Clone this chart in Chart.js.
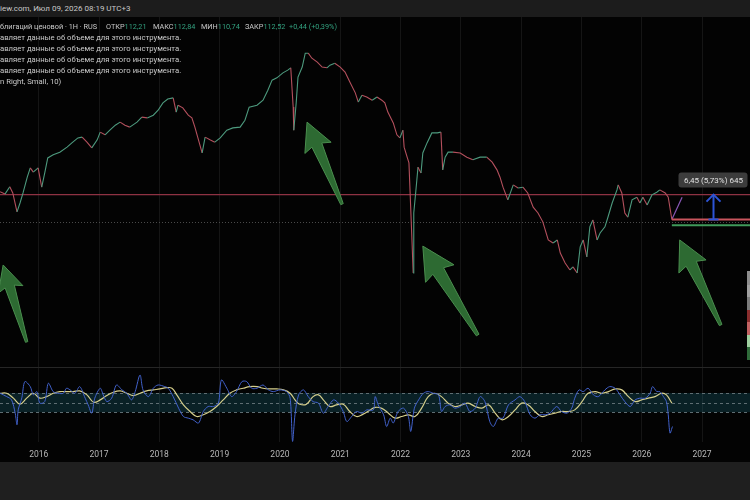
<!DOCTYPE html>
<html><head><meta charset="utf-8">
<script src="https://cdn.jsdelivr.net/npm/chart.js@4.4.1/dist/chart.umd.min.js"></script>
<style>
html,body{margin:0;padding:0;background:#1f1f1f;width:750px;height:500px;overflow:hidden;font-family:Roboto,"DejaVu Sans",sans-serif;}
#top{position:absolute;left:0;top:0;width:750px;height:17px;background:#1c1c1c;color:#c8c8c8;font-size:8px;line-height:17px;white-space:nowrap;}
#chartbg{position:absolute;left:0;top:17px;width:750px;height:445px;background:#030303;}
canvas{position:absolute;left:0;}
#main{top:17px;}
#osc{top:367px;}
#sep{position:absolute;left:0;top:367px;width:750px;height:1px;background:#262626;}
.t{position:absolute;color:#c9c9c9;font-size:7.7px;white-space:nowrap;line-height:10px;}
.l1{font-size:7.3px;}
.g{color:#33a07f;}
.box{position:absolute;left:747px;width:3px;}
</style></head>
<body>
<div id="top">iew.com, Июл 09, 2026 08:19 UTC+3</div>
<div id="chartbg"></div>
<canvas id="main" width="750" height="350"></canvas>
<canvas id="osc" width="750" height="95"></canvas>
<div id="sep"></div>
<div class="t l1" style="left:0;top:22px">блигаций ценовой · 1Н · RUS</div>
<div class="t l1" style="left:106px;top:22px">ОТКР<span class="g">112,21</span></div>
<div class="t l1" style="left:153px;top:22px">МАКС<span class="g">112,84</span></div>
<div class="t l1" style="left:201px;top:22px">МИН<span class="g">110,74</span></div>
<div class="t l1" style="left:245px;top:22px">ЗАКР<span class="g">112,52</span></div>
<div class="t l1 g" style="left:289px;top:22px">+0,44 (+0,39%)</div>
<div class="t" style="left:0;top:33px">авляет данные об объеме для этого инструмента.</div>
<div class="t" style="left:0;top:44px">авляет данные об объеме для этого инструмента.</div>
<div class="t" style="left:0;top:55px">авляет данные об объеме для этого инструмента.</div>
<div class="t" style="left:0;top:66px">авляет данные об объеме для этого инструмента.</div>
<div class="t" style="left:0;top:77px">n Right, Small, 10)</div>
<div class="box" style="top:271px;height:14px;background:#8d8d8d"></div>
<div class="box" style="top:285px;height:12px;background:#a0a0a0"></div>
<div class="box" style="top:297px;height:13px;background:#7c7c7c"></div>
<div class="box" style="top:310px;height:12px;background:#8a2e2e"></div>
<div class="box" style="top:322px;height:13px;background:#c26262"></div>
<div class="box" style="top:335px;height:12px;background:#9fd0a0"></div>
<div class="box" style="top:347px;height:13px;background:#2f6b3a"></div>
<script>
// ---- price series (decimal year, index points) ----
const priceTime = [
2015.36,2015.44,2015.52,2015.57,2015.64,2015.69,2015.74,2015.81,2015.86,2015.91,
2015.99,2016.05,2016.10,2016.15,2016.24,2016.35,2016.47,2016.55,2016.65,2016.72,
2016.80,2016.88,2016.97,2017.02,2017.10,2017.18,2017.27,2017.35,2017.43,2017.51,
2017.63,2017.71,2017.80,2017.90,2017.98,2018.06,2018.14,2018.23,2018.28,2018.31,
2018.39,2018.48,2018.54,2018.59,2018.64,2018.71,2018.76,2018.84,2018.92,2019.01,
2019.12,2019.22,2019.34,2019.42,2019.49,2019.62,2019.72,2019.80,2019.87,2019.95,
2020.05,2020.13,2020.18,2020.22,2020.23,2020.27,2020.30,2020.37,2020.42,2020.47,
2020.53,2020.62,2020.70,2020.78,2020.83,2020.91,2021.00,2021.08,2021.16,2021.25,
2021.30,2021.36,2021.44,2021.53,2021.61,2021.69,2021.74,2021.79,2021.88,2021.94,
2021.99,2022.04,2022.06,2022.11,2022.14,2022.19,2022.21,2022.22,2022.26,2022.29,
2022.34,2022.37,2022.44,2022.52,2022.61,2022.67,2022.70,2022.74,2022.79,2022.87,
2022.99,2023.10,2023.20,2023.32,2023.43,2023.52,2023.60,2023.65,2023.70,2023.78,
2023.87,2023.95,2024.03,2024.11,2024.20,2024.28,2024.36,2024.45,2024.53,2024.60,
2024.65,2024.73,2024.81,2024.86,2024.93,2024.98,2025.03,2025.09,2025.14,2025.19,
2025.26,2025.31,2025.39,2025.44,2025.51,2025.59,2025.61,2025.67,2025.72,2025.77,
2025.84,2025.92,2025.97,2026.02,2026.09,2026.17,2026.25,2026.30,2026.39,2026.44,
2026.50];
const priceValue = [
119.7,119.1,121.0,119.4,114.5,116.8,119.4,123.5,125.9,124.8,
125.9,120.9,124.6,128.5,129.3,130.0,131.3,132.4,133.7,133.9,
132.6,131.1,133.2,135.2,134.5,135.7,137.0,137.8,137.0,136.5,
137.8,139.1,138.9,139.6,140.9,142.8,143.8,144.1,140.4,142.2,
141.5,139.6,138.9,136.5,133.7,129.8,133.9,133.2,132.6,133.7,
135.7,136.3,136.5,138.3,141.7,142.2,143.5,146.1,148.7,149.3,
150.6,151.3,151.9,141.7,135.7,142.8,149.5,152.1,155.7,155.7,
154.4,153.4,152.1,151.9,152.6,153.1,152.1,150.8,148.2,145.4,
143.0,144.8,144.3,143.5,144.3,143.5,142.8,140.4,137.6,134.5,
133.7,135.7,131.3,128.7,127.2,107.2,98.6,114.2,120.9,126.1,
124.6,129.8,132.4,135.0,135.0,135.2,125.4,128.7,130.0,130.0,
129.8,128.7,128.0,128.7,128.7,127.4,125.4,123.5,120.9,117.6,
121.5,120.7,120.9,119.4,115.7,114.2,111.9,107.2,106.4,107.2,
103.8,101.2,99.4,100.2,98.6,105.4,107.2,102.8,110.6,112.4,
107.2,109.0,110.6,113.1,116.8,120.2,121.5,119.4,114.2,113.1,
117.6,118.3,116.8,118.3,116.3,118.9,119.6,120.2,119.4,118.3,
112.5];
// projection stub after the last bar
const projTime = [2026.50, 2026.67];
const projValue = [112.5, 118.3];

// ---- oscillator (fast line) ----
const oscTime = [
2015.36,2015.47,2015.55,2015.61,2015.64,2015.66,2015.72,2015.77,2015.86,2015.91,
2015.97,2016.02,2016.10,2016.16,2016.24,2016.32,2016.41,2016.46,2016.52,2016.60,
2016.68,2016.77,2016.82,2016.88,2016.93,2017.02,2017.07,2017.13,2017.21,2017.29,
2017.38,2017.46,2017.54,2017.60,2017.68,2017.73,2017.82,2017.90,2017.98,2018.09,
2018.15,2018.23,2018.32,2018.40,2018.48,2018.56,2018.65,2018.73,2018.81,2018.90,
2018.98,2019.03,2019.12,2019.20,2019.28,2019.37,2019.45,2019.53,2019.62,2019.72,
2019.81,2019.89,2020.00,2020.11,2020.17,2020.21,2020.25,2020.31,2020.39,2020.47,
2020.55,2020.64,2020.72,2020.80,2020.89,2020.97,2021.05,2021.11,2021.19,2021.27,
2021.36,2021.44,2021.55,2021.58,2021.63,2021.72,2021.77,2021.83,2021.88,2021.96,
2022.05,2022.13,2022.17,2022.23,2022.30,2022.38,2022.46,2022.54,2022.63,2022.68,
2022.74,2022.82,2022.90,2022.99,2023.07,2023.15,2023.24,2023.32,2023.40,2023.48,
2023.54,2023.62,2023.70,2023.79,2023.90,2023.98,2024.06,2024.15,2024.23,2024.31,
2024.40,2024.48,2024.59,2024.67,2024.76,2024.84,2024.89,2024.96,2025.03,2025.11,
2025.20,2025.28,2025.39,2025.47,2025.56,2025.64,2025.72,2025.81,2025.89,2025.97,
2026.06,2026.14,2026.18,2026.25,2026.30,2026.36,2026.41,2026.44,2026.47,2026.51];
const oscValue = [
97,62,28,-110,-231,-76,49,218,166,80,
114,-6,10,201,114,97,97,149,132,97,
166,46,-24,-110,46,149,80,10,46,183,
132,97,28,114,287,132,62,149,183,166,
149,62,-58,-145,-162,-179,-213,-93,-41,-41,
-6,235,149,62,114,218,218,149,149,183,
132,114,132,114,46,-404,-127,80,132,62,
10,-6,-110,-41,28,-6,-93,-197,-145,-93,
-110,-76,-76,62,-24,-127,-249,-162,-213,-93,
-58,-145,-300,-58,28,97,114,97,80,-93,
-41,-24,-58,-41,-6,-93,-58,62,10,-197,
-249,-162,-162,-24,28,62,10,-127,-162,-127,
-127,-110,-41,-93,-110,-58,46,132,114,149,
80,62,132,166,149,80,10,-41,28,46,
46,97,166,114,114,62,10,-127,-317,-249];
// ---- oscillator (signal / smoothed line) ----
const sigTime = [
2015.36,2015.47,2015.58,2015.69,2015.80,2015.91,2016.02,2016.13,2016.24,2016.35,
2016.46,2016.57,2016.68,2016.80,2016.91,2017.02,2017.13,2017.24,2017.35,2017.46,
2017.57,2017.68,2017.79,2017.90,2018.01,2018.12,2018.21,2018.29,2018.40,2018.51,
2018.62,2018.73,2018.84,2018.95,2019.06,2019.17,2019.28,2019.39,2019.50,2019.62,
2019.72,2019.84,2019.95,2020.06,2020.17,2020.25,2020.33,2020.44,2020.55,2020.64,
2020.72,2020.83,2020.94,2021.05,2021.16,2021.27,2021.38,2021.49,2021.58,2021.69,
2021.80,2021.91,2022.02,2022.13,2022.24,2022.35,2022.46,2022.57,2022.68,2022.79,
2022.90,2023.02,2023.12,2023.24,2023.35,2023.46,2023.57,2023.68,2023.79,2023.90,
2024.01,2024.12,2024.23,2024.34,2024.45,2024.56,2024.67,2024.78,2024.89,2025.01,
2025.11,2025.23,2025.34,2025.45,2025.56,2025.67,2025.78,2025.89,2026.00,2026.11,
2026.22,2026.33,2026.41,2026.50];
const sigValue = [
97,97,46,-17,46,97,46,62,97,114,
114,114,121,80,4,28,73,108,121,97,
73,97,121,132,142,155,149,80,-24,-93,
-145,-127,-93,-41,28,97,132,149,166,166,
149,142,142,132,97,28,-17,-17,62,80,
28,-41,-24,-17,-93,-145,-120,-80,-50,-60,
-110,-162,-145,-127,-145,-58,62,97,62,-6,
-41,-24,-6,-41,-58,-24,-110,-179,-145,-76,
-6,-24,-93,-145,-127,-110,-93,-93,-76,10,
97,114,97,114,142,132,62,10,28,46,
62,97,80,-6];
const bandLevels = [-100, 0, 100];

// ---- annotations (data units) ----
const levelLine = 118.97;      // horizontal level
const dottedLevel = 111.9;
const posEntry = 112.5, posStop = 111.0, posStart = 2026.50;
const measureT = 2027.18, measureFrom = 112.52, measureTo = 118.97;
const measureLabel = '6,45 (5,73%) 645';
const arrowTipT = [2015.41, 2020.45, 2022.37, 2026.63];
const arrowTipP = [100.7, 137.8, 105.6, 107.2];
const arrowTailT = [2015.80, 2021.03, 2023.28, 2027.31];
const arrowTailP = [80.7, 116.5, 82.5, 85.1];
const yearTicks = [2016,2017,2018,2019,2020,2021,2022,2023,2024,2025,2026,2027];

const X_MIN = 2015.358, X_MAX = 2027.796;
const Y_MIN = 74.2, Y_MAX = 165.1;
const UP = '#4d9a7e', DOWN = '#b4505d';

function pts(t, v){ return t.map((x,i)=>({x:x, y:v[i]})); }

function drawArrow(ctx, tx, ty, bx, by){
  const dx=tx-bx, dy=ty-by, L=Math.hypot(dx,dy), ux=dx/L, uy=dy/L, nx=-uy, ny=ux;
  const h=L*0.28, hw=L*0.16, sw=L*0.06, tw=L*0.015;
  const hx=tx-ux*h, hy=ty-uy*h;
  const p=[[tx,ty],[hx+nx*hw-ux*3,hy+ny*hw-uy*3],[hx+nx*sw,hy+ny*sw],[bx+nx*tw,by+ny*tw],
           [bx-nx*tw,by-ny*tw],[hx-nx*sw,hy-ny*sw],[hx-nx*hw-ux*3,hy-ny*hw-uy*3]];
  ctx.beginPath(); ctx.moveTo(p[0][0],p[0][1]);
  for(let i=1;i<p.length;i++) ctx.lineTo(p[i][0],p[i][1]);
  ctx.closePath();
  ctx.fillStyle='#2d6a32'; ctx.fill();
  ctx.strokeStyle='#4a8e4e'; ctx.lineWidth=1; ctx.stroke();
}

const mainPlugin = {
  id:'mainAnno',
  beforeDatasetsDraw(chart){
    const {ctx, chartArea:a, scales:{x,y}} = chart;
    ctx.save();
    let yy=Math.round(y.getPixelForValue(dottedLevel))+0.5;
    ctx.strokeStyle='#4a4a4a'; ctx.lineWidth=1; ctx.setLineDash([1,2]);
    ctx.beginPath(); ctx.moveTo(a.left,yy); ctx.lineTo(a.right,yy); ctx.stroke();
    ctx.setLineDash([]);
    yy=y.getPixelForValue(levelLine);
    ctx.strokeStyle='#8e3243'; ctx.lineWidth=1.3;
    ctx.beginPath(); ctx.moveTo(a.left,yy); ctx.lineTo(a.right,yy); ctx.stroke();
    ctx.restore();
  },
  afterDatasetsDraw(chart){
    const {ctx, chartArea:a, scales:{x,y}} = chart;
    ctx.save();
    const xs = x.getPixelForValue(posStart);
    ctx.lineWidth=2;
    ctx.strokeStyle='#c9555d';
    let yy=y.getPixelForValue(posEntry);
    ctx.beginPath(); ctx.moveTo(xs,yy); ctx.lineTo(a.right,yy); ctx.stroke();
    ctx.strokeStyle='#3f9a5a';
    yy=y.getPixelForValue(posStop);
    ctx.beginPath(); ctx.moveTo(xs,yy); ctx.lineTo(a.right,yy); ctx.stroke();
    // measure arrow
    const mx=Math.round(x.getPixelForValue(measureT))+0.5;
    const y0=y.getPixelForValue(measureFrom), y1=y.getPixelForValue(measureTo);
    ctx.strokeStyle='#2d54d6'; ctx.lineWidth=2;
    ctx.beginPath(); ctx.moveTo(mx,y0); ctx.lineTo(mx,y1+1); ctx.stroke();
    ctx.beginPath(); ctx.moveTo(mx-7,y1+7); ctx.lineTo(mx,y1); ctx.lineTo(mx+7,y1+7); ctx.stroke();
    ctx.beginPath(); ctx.moveTo(mx-5,y0); ctx.lineTo(mx+5,y0); ctx.stroke();
    // label
    ctx.font='8px Roboto, "DejaVu Sans", sans-serif';
    const w=69, hgt=15, bx=mx-w/2-0.5, by=y1-7-hgt;
    ctx.fillStyle='#3c3c3c';
    ctx.beginPath(); ctx.roundRect(bx,by,w,hgt,3); ctx.fill();
    ctx.fillStyle='#e2e2e2'; ctx.textAlign='center'; ctx.textBaseline='middle';
    ctx.fillText(measureLabel, mx, by+hgt/2+0.5);
    // big arrows
    for(let i=0;i<arrowTipT.length;i++){
      drawArrow(ctx, x.getPixelForValue(arrowTipT[i]), y.getPixelForValue(arrowTipP[i]),
                     x.getPixelForValue(arrowTailT[i]), y.getPixelForValue(arrowTailP[i]));
    }
    ctx.restore();
  }
};

new Chart(document.getElementById('main'), {
  type:'line',
  data:{datasets:[
    {data:pts(priceTime,priceValue), borderWidth:1.1, pointRadius:0, tension:0,
     segment:{borderColor:c=> c.p1.parsed.y>=c.p0.parsed.y ? UP : DOWN}},
    {data:pts(projTime,projValue), borderColor:'#8a58b8', borderWidth:1.2, pointRadius:0}
  ]},
  options:{
    animation:false, responsive:false, maintainAspectRatio:false,
    layout:{padding:0},
    plugins:{legend:{display:false}, tooltip:{enabled:false}},
    scales:{
      x:{type:'linear', min:X_MIN, max:X_MAX, afterFit(s){s.height=0;},
         afterBuildTicks(s){ s.ticks = yearTicks.map(v=>({value:v})); },
         ticks:{display:false}, grid:{color:'#151515', drawTicks:false}, border:{display:false}},
      y:{min:Y_MIN, max:Y_MAX, display:false}
    }
  },
  plugins:[mainPlugin]
});

const oscPlugin = {
  id:'oscBand',
  beforeDatasetsDraw(chart){
    const {ctx, chartArea:a, scales:{y}} = chart;
    ctx.save();
    const yt=y.getPixelForValue(bandLevels[2]), yb=y.getPixelForValue(bandLevels[0]);
    ctx.fillStyle='rgba(30,110,130,0.28)';
    ctx.fillRect(a.left, yt, a.right-a.left, yb-yt);
    ctx.strokeStyle='#5f6e73'; ctx.lineWidth=1; ctx.setLineDash([3,3]);
    bandLevels.forEach(v=>{
      const yy=Math.round(y.getPixelForValue(v))+0.5;
      ctx.beginPath(); ctx.moveTo(a.left,yy); ctx.lineTo(a.right,yy); ctx.stroke();
    });
    ctx.restore();
  }
};

new Chart(document.getElementById('osc'), {
  type:'line',
  data:{datasets:[
    {data:pts(oscTime,oscValue), borderColor:'#4262cc', borderWidth:1, pointRadius:0, tension:0.3},
    {data:pts(sigTime,sigValue), borderColor:'#d6cf8c', borderWidth:1.2, pointRadius:0, tension:0.4}
  ]},
  options:{
    animation:false, responsive:false, maintainAspectRatio:false,
    layout:{padding:0},
    plugins:{legend:{display:false}, tooltip:{enabled:false}},
    scales:{
      x:{type:'linear', min:X_MIN, max:X_MAX, afterFit(s){s.height=20;},
         afterBuildTicks(s){ s.ticks = yearTicks.map(v=>({value:v})); },
         ticks:{color:'#b8b8b8', font:{size:8.5, family:'Roboto'}, padding:8, autoSkip:false, maxRotation:0,
                callback:v=>String(v)},
         grid:{color:'#151515', drawTicks:false}, border:{display:false}},
      y:{min:-410, max:370, display:false}
    }
  },
  plugins:[oscPlugin]
});
</script>
</body></html>
